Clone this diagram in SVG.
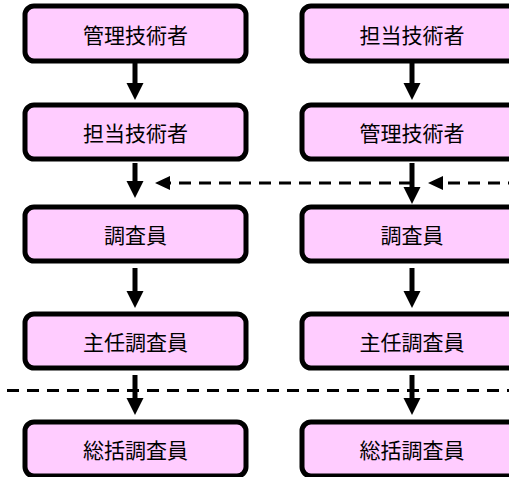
<svg xmlns="http://www.w3.org/2000/svg" width="509" height="477" viewBox="0 0 509 477">
<style>
.box{fill:#FFCCFF;stroke:#000;stroke-width:5}
.lbl{font-family:"Noto Sans CJK JP","Noto Sans CJK SC",sans-serif;font-size:21px;fill:#000;text-anchor:middle;dominant-baseline:central}
.solid{stroke:#000;stroke-width:5;fill:none;marker-end:url(#ah)}
.dash{stroke:#000;stroke-width:3;fill:none;stroke-dasharray:12 8}
</style>
<defs>
<marker id="ah" markerUnits="userSpaceOnUse" markerWidth="17" markerHeight="17" viewBox="0 0 17 17" refX="0" refY="8.5" orient="auto" overflow="visible">
<path d="M0,0 L17,8.5 L0,17 Z" fill="#000"/>
</marker>
<marker id="dh" markerUnits="userSpaceOnUse" markerWidth="15" markerHeight="14" viewBox="0 0 15 14" refX="0" refY="7" orient="auto" overflow="visible">
<path d="M0,0 L15,7 L0,14 Z" fill="#000"/>
</marker>
</defs>
<g id="connectors">
<line class="dash" x1="7" y1="390.5" x2="509" y2="390.5"/>
<line class="dash" x1="520" y1="183" x2="443" y2="183" style="marker-end:url(#dh)"/>
<line class="dash" x1="411" y1="183" x2="170" y2="183" style="marker-end:url(#dh)"/>
<line class="solid" x1="135" y1="63" x2="135" y2="83"/>
<line class="solid" x1="135" y1="163" x2="135" y2="181"/>
<line class="solid" x1="135" y1="268" x2="135" y2="291"/>
<line class="solid" x1="135" y1="375" x2="135" y2="398"/>
<line class="solid" x1="412" y1="63" x2="412" y2="83"/>
<line class="solid" x1="412" y1="163" x2="412" y2="187"/>
<line class="solid" x1="412" y1="268" x2="412" y2="291"/>
<line class="solid" x1="412" y1="375" x2="412" y2="398"/>
</g>
<g id="L1"><rect class="box" x="25" y="6" width="221" height="55" rx="9"/><text class="lbl" x="135.5" y="33.5">管理技術者</text></g>
<g id="L2"><rect class="box" x="25" y="105" width="221" height="54" rx="9"/><text class="lbl" x="135.5" y="132">担当技術者</text></g>
<g id="L3"><rect class="box" x="25" y="207" width="221" height="54" rx="9"/><text class="lbl" x="135.5" y="234">調査員</text></g>
<g id="L4"><rect class="box" x="25" y="314" width="221" height="54" rx="9"/><text class="lbl" x="135.5" y="341">主任調査員</text></g>
<g id="L5"><rect class="box" x="25" y="422" width="221" height="54" rx="9"/><text class="lbl" x="135.5" y="449">総括調査員</text></g>
<g id="R1"><rect class="box" x="302" y="6" width="221" height="55" rx="9"/><text class="lbl" x="412" y="33.5">担当技術者</text></g>
<g id="R2"><rect class="box" x="302" y="105" width="221" height="54" rx="9"/><text class="lbl" x="412" y="132">管理技術者</text></g>
<g id="R3"><rect class="box" x="302" y="207" width="221" height="54" rx="9"/><text class="lbl" x="412" y="234">調査員</text></g>
<g id="R4"><rect class="box" x="302" y="314" width="221" height="54" rx="9"/><text class="lbl" x="412" y="341">主任調査員</text></g>
<g id="R5"><rect class="box" x="302" y="422" width="221" height="54" rx="9"/><text class="lbl" x="412" y="449">総括調査員</text></g>
</svg>
